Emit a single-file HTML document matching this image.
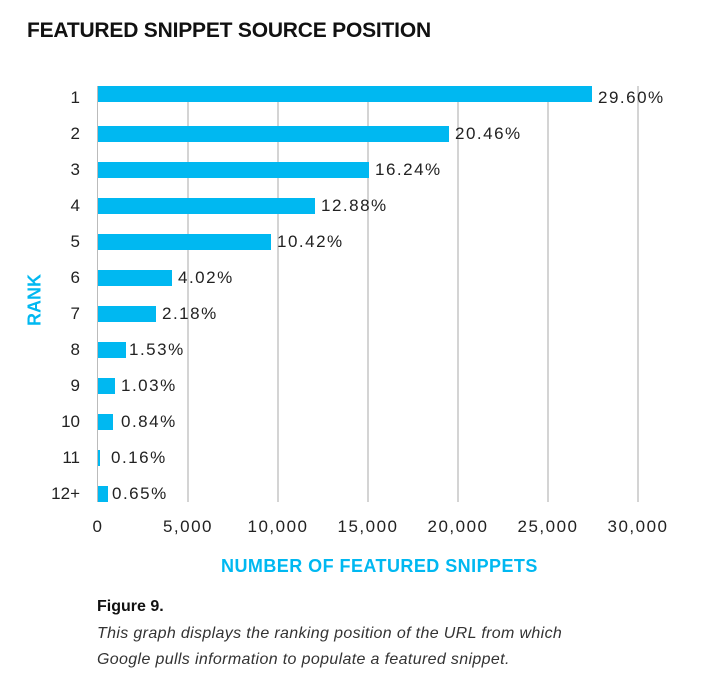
<!DOCTYPE html>
<html><head><style>
body{margin:0;width:705px;height:684px;background:#fff;font-family:"Liberation Sans",sans-serif;position:relative;overflow:hidden;color:#222}
.a{position:absolute;white-space:nowrap}
.bar{position:absolute;left:98px;height:16px;background:#00b8f1}
.g{position:absolute;top:86px;height:416px;width:2px;background:#d4d4d4}
.r{position:absolute;width:60px;left:20px;text-align:right;font-size:17px}
.v{position:absolute;font-size:17px;letter-spacing:1.5px}
.t{position:absolute;top:517px;font-size:17px;width:100px;text-align:center;letter-spacing:1.5px}
</style></head><body>
<div class="a" style="left:27px;top:19px;font-size:21px;font-weight:bold;color:#111;letter-spacing:-0.2px">FEATURED SNIPPET SOURCE POSITION</div>
<div class="g" style="left:97px;width:1px;background:#bbb"></div>
<div class="g" style="left:187px"></div><div class="g" style="left:277px"></div><div class="g" style="left:367px"></div><div class="g" style="left:457px"></div><div class="g" style="left:547px"></div><div class="g" style="left:637px"></div>

<div class="bar" style="top:86px;width:494px"></div>
<div class="bar" style="top:126px;width:351px"></div>
<div class="bar" style="top:162px;width:271px"></div>
<div class="bar" style="top:198px;width:217px"></div>
<div class="bar" style="top:234px;width:173px"></div>
<div class="bar" style="top:270px;width:74px"></div>
<div class="bar" style="top:306px;width:58px"></div>
<div class="bar" style="top:342px;width:28px"></div>
<div class="bar" style="top:378px;width:17px"></div>
<div class="bar" style="top:414px;width:15px"></div>
<div class="bar" style="top:450px;width:2px"></div>
<div class="bar" style="top:486px;width:10px"></div>

<div class="r" style="top:88px">1</div><div class="v" style="left:598px;top:88px">29.60%</div>
<div class="r" style="top:124px">2</div><div class="v" style="left:455px;top:124px">20.46%</div>
<div class="r" style="top:160px">3</div><div class="v" style="left:375px;top:160px">16.24%</div>
<div class="r" style="top:196px">4</div><div class="v" style="left:321px;top:196px">12.88%</div>
<div class="r" style="top:232px">5</div><div class="v" style="left:277px;top:232px">10.42%</div>
<div class="r" style="top:268px">6</div><div class="v" style="left:178px;top:268px">4.02%</div>
<div class="r" style="top:304px">7</div><div class="v" style="left:162px;top:304px">2.18%</div>
<div class="r" style="top:340px">8</div><div class="v" style="left:129px;top:340px">1.53%</div>
<div class="r" style="top:376px">9</div><div class="v" style="left:121px;top:376px">1.03%</div>
<div class="r" style="top:412px">10</div><div class="v" style="left:121px;top:412px">0.84%</div>
<div class="r" style="top:448px">11</div><div class="v" style="left:111px;top:448px">0.16%</div>
<div class="r" style="top:484px">12+</div><div class="v" style="left:112px;top:484px">0.65%</div>

<div class="t" style="left:48px">0</div><div class="t" style="left:138px">5,000</div><div class="t" style="left:228px">10,000</div><div class="t" style="left:318px">15,000</div><div class="t" style="left:408px">20,000</div><div class="t" style="left:498px">25,000</div><div class="t" style="left:588px">30,000</div>

<div class="a" style="left:221px;top:556px;font-size:18px;font-weight:bold;color:#00b8f1;letter-spacing:0.45px">NUMBER OF FEATURED SNIPPETS</div>
<div class="a" style="left:35px;top:300px;font-size:18px;font-weight:bold;color:#00b8f1;transform:translate(-50%,-50%) rotate(-90deg)">RANK</div>

<div class="a" style="left:97px;top:598px;font-size:16px;font-weight:bold;color:#111">Figure 9.</div>
<div class="a" style="left:97px;top:625px;font-size:16px;font-style:italic;color:#333;letter-spacing:0.35px">This graph displays the ranking position of the URL from which</div>
<div class="a" style="left:97px;top:651px;font-size:16px;font-style:italic;color:#333;letter-spacing:0.35px">Google pulls information to populate a featured snippet.</div>
</body></html>
